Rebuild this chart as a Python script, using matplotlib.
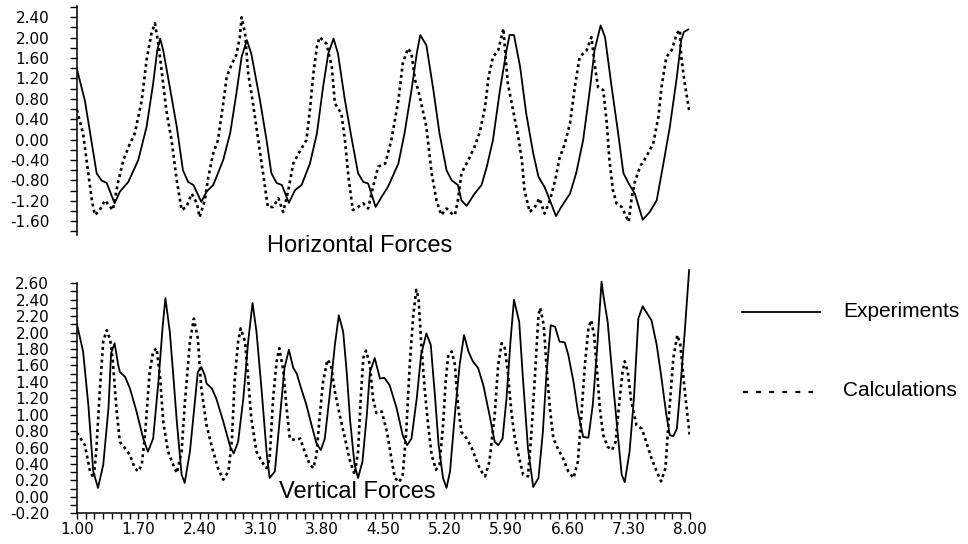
import numpy as np
import matplotlib
matplotlib.use('Agg')
import matplotlib.pyplot as plt
from matplotlib.lines import Line2D

plt.rcParams['font.family'] = ['DejaVu Sans']
plt.rcParams['axes.linewidth'] = 1.1

# ---- Horizontal forces (top panel) ----
h_exp_t = [1.00, 1.09, 1.225, 1.28, 1.34, 1.43, 1.49, 1.586, 1.70, 1.795, 1.87, 1.917, 1.95, 1.985,
           2.06, 2.14, 2.21, 2.27, 2.33, 2.42, 2.48, 2.556, 2.67, 2.75, 2.82, 2.88, 2.94, 2.99,
           3.09, 3.165, 3.22, 3.28, 3.34, 3.42, 3.49, 3.565, 3.66, 3.74, 3.81, 3.87, 3.93, 3.98,
           4.06, 4.14, 4.21, 4.27, 4.325, 4.41, 4.48, 4.55, 4.67, 4.74, 4.82, 4.88, 4.92, 4.99,
           5.07, 5.14, 5.22, 5.28, 5.35, 5.39, 5.45, 5.54, 5.62, 5.68, 5.75, 5.83, 5.905, 5.94, 5.99,
           6.06, 6.13, 6.21, 6.27, 6.34, 6.40, 6.47, 6.53, 6.63, 6.70, 6.78, 6.856, 6.91, 6.98,
           7.03, 7.10, 7.18, 7.24, 7.31, 7.37, 7.46, 7.54, 7.62, 7.69, 7.77, 7.85, 7.90, 7.93, 7.98]
h_exp_v = [1.38, 0.77, -0.66, -0.80, -0.85, -1.25, -1.02, -0.83, -0.40, 0.25, 1.10, 1.75, 1.98, 1.75,
           1.03, 0.25, -0.60, -0.83, -0.89, -1.22, -1.02, -0.89, -0.40, 0.13, 0.90, 1.62, 1.95, 1.69,
           0.77, -0.01, -0.66, -0.85, -0.89, -1.24, -0.99, -0.89, -0.47, 0.12, 1.03, 1.69, 1.98, 1.69,
           0.77, -0.01, -0.66, -0.83, -0.86, -1.32, -1.12, -0.93, -0.47, 0.12, 0.97, 1.69, 2.05, 1.85,
           0.97, 0.12, -0.60, -0.80, -0.89, -1.19, -1.30, -1.06, -0.89, -0.53, -0.01, 0.97, 1.75, 2.05, 2.05,
           1.43, 0.51, -0.27, -0.73, -0.93, -1.19, -1.50, -1.32, -1.06, -0.66, -0.01, 0.97, 1.75, 2.24,
           2.01, 1.10, 0.12, -0.66, -0.89, -1.06, -1.57, -1.42, -1.19, -0.53, 0.25, 1.23, 1.95, 2.11, 2.16]

h_calc_t = [1.00, 1.07, 1.13, 1.17, 1.205, 1.26, 1.32, 1.38, 1.41, 1.47, 1.53, 1.605, 1.66, 1.74, 1.795,
            1.85, 1.89, 1.93, 1.97, 2.02, 2.08, 2.14, 2.195, 2.25, 2.31, 2.37, 2.40, 2.46, 2.50, 2.556,
            2.61, 2.67, 2.71, 2.77, 2.82, 2.86, 2.88, 2.92, 2.955, 3.01, 3.07, 3.13, 3.18, 3.24, 3.30,
            3.355, 3.41, 3.47, 3.55, 3.62, 3.66, 3.70, 3.74, 3.77, 3.85, 3.91, 3.945, 4.02, 4.06, 4.10,
            4.15, 4.21, 4.27, 4.325, 4.38, 4.44, 4.52, 4.59, 4.67, 4.72, 4.78, 4.82, 4.86, 4.90, 4.99,
            5.05, 5.105, 5.16, 5.22, 5.28, 5.315, 5.35, 5.39, 5.47, 5.54, 5.60, 5.66, 5.70, 5.75, 5.81,
            5.87, 5.885, 5.92, 5.98, 6.04, 6.08, 6.11, 6.17, 6.23, 6.28, 6.34, 6.40, 6.46, 6.51, 6.57,
            6.63, 6.685, 6.74, 6.82, 6.875, 6.91, 6.95, 7.01, 7.05, 7.08, 7.12, 7.16, 7.22, 7.30, 7.33,
            7.37, 7.43, 7.50, 7.58, 7.64, 7.675, 7.73, 7.79, 7.85, 7.885, 7.90, 7.94, 7.99]
h_calc_v = [0.58, 0.12, -0.66, -1.19, -1.48, -1.38, -1.19, -1.32, -1.38, -0.83, -0.40, -0.08, 0.12, 0.77, 1.56,
            2.08, 2.28, 1.88, 1.30, 0.58, -0.01, -0.80, -1.38, -1.32, -1.06, -1.25, -1.52, -1.19, -0.73, -0.27,
            -0.01, 0.71, 1.23, 1.49, 1.66, 2.01, 2.40, 2.08, 1.30, 0.71, -0.01, -0.73, -1.32, -1.32, -1.15,
            -1.42, -1.02, -0.47, -0.21, -0.01, 0.58, 1.30, 1.82, 2.01, 1.88, 1.43, 0.71, 0.51, -0.01, -0.73,
            -1.38, -1.32, -1.25, -1.35, -0.93, -0.53, -0.47, -0.01, 0.77, 1.49, 1.79, 1.69, 1.17, 0.95, 0.25,
            -0.66, -1.19, -1.48, -1.35, -1.45, -1.48, -1.19, -0.66, -0.40, -0.14, 0.15, 0.64, 1.23, 1.62, 1.75,
            2.18, 1.82, 1.10, 0.58, 0.05, -0.40, -0.99, -1.42, -1.32, -1.15, -1.45, -1.19, -0.80, -0.37, -0.08,
            0.32, 1.03, 1.62, 1.75, 2.01, 1.49, 1.03, 0.97, 0.32, -0.40, -0.99, -1.25, -1.32, -1.61, -1.19,
            -0.83, -0.53, -0.34, -0.08, 0.45, 1.03, 1.62, 1.75, 2.08, 2.15, 1.62, 1.10, 0.58]

# ---- Vertical forces (bottom panel) ----
v_exp_t = [1.00, 1.07, 1.13, 1.186, 1.24, 1.30, 1.36, 1.39, 1.43, 1.47, 1.49, 1.55, 1.605, 1.68, 1.757,
           1.81, 1.87, 1.93, 1.98, 2.01, 2.06, 2.10, 2.14, 2.195, 2.23, 2.29, 2.35, 2.38, 2.42, 2.46,
           2.48, 2.54, 2.59, 2.67, 2.75, 2.79, 2.84, 2.90, 2.955, 3.005, 3.05, 3.11, 3.165, 3.20, 3.26,
           3.32, 3.37, 3.42, 3.47, 3.51, 3.56, 3.62, 3.68, 3.735, 3.785, 3.83, 3.89, 3.945, 3.99, 4.04,
           4.08, 4.12, 4.17, 4.21, 4.26, 4.31, 4.345, 4.40, 4.46, 4.51, 4.57, 4.65, 4.72, 4.77, 4.82,
           4.88, 4.93, 4.99, 5.04, 5.09, 5.13, 5.18, 5.22, 5.26, 5.315, 5.37, 5.42, 5.47, 5.52, 5.58,
           5.64, 5.71, 5.77, 5.81, 5.86, 5.905, 5.95, 5.99, 6.05, 6.09, 6.15, 6.21, 6.27, 6.32, 6.36,
           6.41, 6.46, 6.51, 6.57, 6.61, 6.67, 6.72, 6.78, 6.84, 6.89, 6.94, 6.99, 7.01, 7.06, 7.12,
           7.18, 7.22, 7.255, 7.31, 7.36, 7.41, 7.46, 7.50, 7.56, 7.62, 7.67, 7.73, 7.77, 7.81, 7.85,
           7.88, 7.94, 7.99]
v_exp_v = [2.10, 1.77, 1.12, 0.31, 0.11, 0.39, 1.08, 1.75, 1.87, 1.61, 1.52, 1.46, 1.32, 1.04, 0.71,
           0.55, 0.71, 1.40, 2.09, 2.42, 2.01, 1.48, 0.92, 0.27, 0.17, 0.55, 1.20, 1.52, 1.58, 1.48,
           1.38, 1.32, 1.20, 0.92, 0.61, 0.53, 0.67, 1.20, 1.89, 2.36, 2.01, 1.28, 0.55, 0.23, 0.31,
           1.00, 1.57, 1.79, 1.57, 1.50, 1.32, 1.12, 0.87, 0.65, 0.57, 0.71, 1.28, 1.85, 2.21, 2.01,
           1.52, 0.92, 0.39, 0.23, 0.43, 1.00, 1.52, 1.69, 1.44, 1.45, 1.36, 1.08, 0.75, 0.63, 0.71,
           1.20, 1.73, 1.99, 1.85, 1.20, 0.63, 0.23, 0.11, 0.31, 1.00, 1.61, 1.97, 1.77, 1.65, 1.57,
           1.36, 1.00, 0.67, 0.63, 0.71, 1.20, 1.89, 2.40, 2.13, 1.48, 0.59, 0.12, 0.23, 0.79, 1.48,
           2.09, 2.07, 1.89, 1.88, 1.73, 1.40, 1.04, 0.73, 0.72, 1.12, 1.81, 2.62, 2.46, 2.13, 1.40,
           0.71, 0.27, 0.18, 0.55, 1.20, 2.17, 2.32, 2.25, 2.15, 1.85, 1.48, 1.00, 0.75, 0.74, 0.83,
           1.20, 2.01, 2.76]

v_calc_t = [1.00, 1.09, 1.15, 1.19, 1.22, 1.26, 1.30, 1.34, 1.38, 1.41, 1.45, 1.49, 1.55, 1.605, 1.66,
            1.70, 1.74, 1.78, 1.83, 1.87, 1.91, 1.95, 1.985, 2.04, 2.10, 2.14, 2.195, 2.23, 2.29, 2.335,
            2.38, 2.42, 2.48, 2.54, 2.61, 2.67, 2.73, 2.77, 2.80, 2.84, 2.87, 2.92, 2.955, 2.99, 3.05,
            3.11, 3.165, 3.20, 3.24, 3.28, 3.31, 3.355, 3.39, 3.43, 3.49, 3.55, 3.60, 3.66, 3.70, 3.735,
            3.77, 3.81, 3.86, 3.90, 3.945, 4.00, 4.06, 4.12, 4.17, 4.21, 4.24, 4.27, 4.30, 4.345, 4.38,
            4.42, 4.48, 4.54, 4.59, 4.63, 4.68, 4.72, 4.76, 4.80, 4.84, 4.875, 4.90, 4.93, 4.97, 5.01,
            5.05, 5.10, 5.14, 5.18, 5.21, 5.24, 5.28, 5.315, 5.35, 5.39, 5.45, 5.51, 5.58, 5.64, 5.66,
            5.71, 5.77, 5.81, 5.85, 5.885, 5.92, 5.96, 6.00, 6.05, 6.095, 6.15, 6.19, 6.23, 6.27, 6.29,
            6.33, 6.36, 6.40, 6.44, 6.49, 6.55, 6.61, 6.67, 6.72, 6.76, 6.80, 6.84, 6.87, 6.905, 6.94,
            6.97, 7.01, 7.06, 7.11, 7.15, 7.19, 7.23, 7.255, 7.29, 7.33, 7.39, 7.45, 7.50, 7.56, 7.62,
            7.67, 7.72, 7.76, 7.81, 7.855, 7.89, 7.93, 7.97, 8.00]
v_calc_v = [0.78, 0.63, 0.31, 0.23, 0.55, 1.28, 1.89, 2.03, 1.91, 1.65, 1.08, 0.67, 0.59, 0.51, 0.35,
            0.31, 0.39, 0.79, 1.52, 1.77, 1.81, 1.44, 0.92, 0.55, 0.39, 0.29, 0.55, 1.12, 1.89, 2.17,
            1.93, 1.32, 0.87, 0.61, 0.35, 0.21, 0.31, 0.71, 1.40, 1.89, 2.05, 1.89, 1.44, 0.96, 0.55,
            0.43, 0.35, 0.47, 1.20, 1.65, 1.81, 1.55, 1.12, 0.71, 0.69, 0.71, 0.55, 0.39, 0.35, 0.51,
            0.96, 1.40, 1.67, 1.61, 1.28, 1.00, 0.71, 0.43, 0.27, 0.55, 1.20, 1.69, 1.78, 1.61, 1.20,
            1.02, 1.04, 0.79, 0.47, 0.23, 0.18, 0.27, 0.79, 1.61, 2.21, 2.52, 2.42, 1.89, 1.32, 0.87,
            0.51, 0.33, 0.39, 0.87, 1.40, 1.73, 1.77, 1.61, 1.12, 0.79, 0.71, 0.59, 0.39, 0.27, 0.25,
            0.43, 1.00, 1.61, 1.87, 1.81, 1.52, 1.04, 0.71, 0.47, 0.27, 0.25, 0.79, 1.48, 2.21, 2.30,
            2.09, 1.61, 1.08, 0.71, 0.59, 0.47, 0.31, 0.23, 0.43, 1.00, 1.61, 2.05, 2.15, 1.97, 1.52,
            1.08, 0.75, 0.61, 0.57, 0.67, 1.12, 1.52, 1.65, 1.52, 1.16, 0.87, 0.83, 0.67, 0.47, 0.31,
            0.19, 0.35, 1.00, 1.69, 1.97, 1.85, 1.40, 1.00, 0.73]

# 線型
SOLID = dict(color='black', lw=1.3, solid_joinstyle='round')
DOTTED = dict(color='black', lw=1.9, linestyle=(0, (1.1, 1.3)))
TICK_FS = 11

fig = plt.figure(figsize=(9.68, 5.44), dpi=100)
ax1 = fig.add_axes([0.0795, 0.568, 0.6333, 0.421])
ax2 = fig.add_axes([0.0795, 0.0564, 0.6333, 0.4546])

ax1.plot(h_exp_t, h_exp_v, **SOLID)
ax1.plot(h_calc_t, h_calc_v, **DOTTED)
ax2.plot(v_exp_t, v_exp_v, **SOLID)
ax2.plot(v_calc_t, v_calc_v, **DOTTED)

for ax in (ax1, ax2):
    ax.set_xlim(1.0, 8.0)
    ax.spines['top'].set_visible(False)
    ax.spines['right'].set_visible(False)
    ax.tick_params(axis='y', which='both', direction='out', length=5, width=1.0,
                   labelsize=TICK_FS, pad=15)
    ax.yaxis.set_major_formatter(matplotlib.ticker.FormatStrFormatter('%.2f'))

# top panel: only a y axis
ax1.set_ylim(-1.87, 2.62)
ax1.spines['bottom'].set_visible(False)
ax1.set_yticks(np.round(np.arange(-1.6, 2.41, 0.4), 2) + 0.0)
ax1.set_yticks(np.round(np.arange(-1.8, 2.61, 0.2), 2), minor=True)
ax1.tick_params(axis='x', which='both', bottom=False, labelbottom=False)

# bottom panel
ax2.set_ylim(-0.2, 2.81)
ax2.spines['left'].set_bounds(-0.2, 2.6)
ax2.set_yticks(np.round(np.arange(-0.2, 2.61, 0.2), 2) + 0.0)
ax2.set_yticks(np.round(np.arange(-0.2, 2.61, 0.1), 2), minor=True)
ax2.set_xticks(np.round(np.arange(1.0, 8.01, 0.7), 2))
ax2.set_xticks(np.round(np.arange(1.0, 8.01, 0.1), 2), minor=True)
ax2.xaxis.set_major_formatter(matplotlib.ticker.FormatStrFormatter('%.2f'))
ax2.tick_params(axis='x', which='both', direction='out', length=4.5, width=1.0,
                labelsize=TICK_FS, pad=1.5)

# 標題
fig.text(0.372, 0.548, 'Horizontal Forces', family='Liberation Sans', fontsize=17,
         ha='center', va='center')
fig.text(0.369, 0.096, 'Vertical Forces', family='Liberation Sans', fontsize=17,
         ha='center', va='center')

# 圖例 (hand placed on the right)
fig.add_artist(Line2D([0.767, 0.847], [0.4265, 0.4265], transform=fig.transFigure,
                      color='black', lw=1.3))
fig.add_artist(Line2D([0.768, 0.840], [0.279, 0.279], transform=fig.transFigure,
                      color='black', lw=1.6, linestyle=(0, (2.2, 3.7))))
fig.text(0.871, 0.4265, 'Experiments', family='Liberation Sans', fontsize=15,
         ha='left', va='center')
fig.text(0.871, 0.283, 'Calculations', family='Liberation Sans', fontsize=15,
         ha='left', va='center')

fig.savefig('out.png', dpi=100, facecolor='white')
